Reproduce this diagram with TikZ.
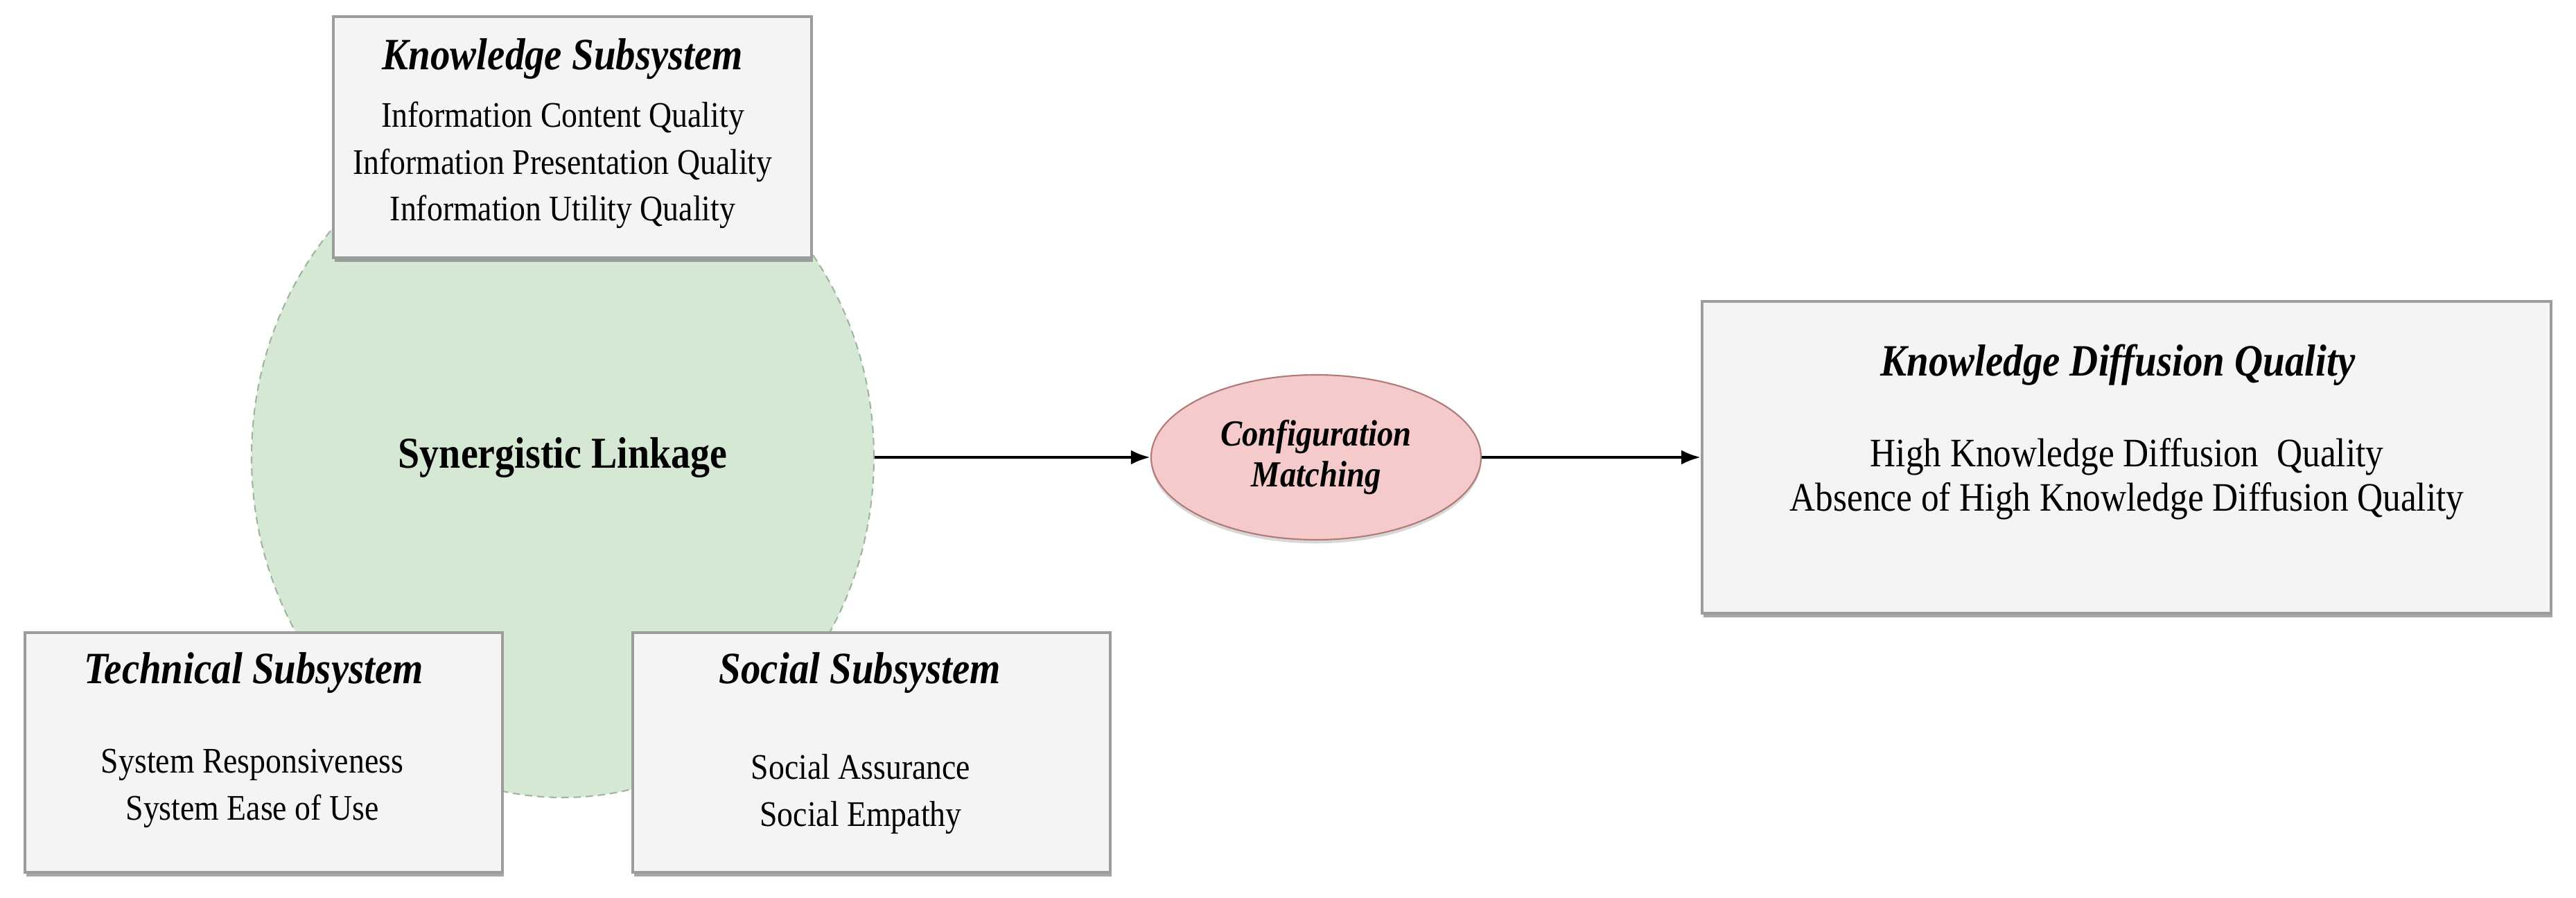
\documentclass[tikz,border=0pt]{standalone}
\usepackage{fontspec}
\setmainfont{Liberation Serif}[FakeStretch=0.88]
\usetikzlibrary{shapes.geometric,shadows,arrows.meta}

\definecolor{boxfill}{HTML}{F4F4F4}
\definecolor{boxline}{HTML}{9C9C9C}
\definecolor{linkfill}{HTML}{D5E8D4}
\definecolor{linkline}{HTML}{9FB59E}
\definecolor{matchfill}{HTML}{F5CACA}
\definecolor{matchline}{HTML}{B07A78}

\tikzset{
	subsystem/.style={draw=boxline, line width=1pt, fill=boxfill, inner sep=0pt,
		drop shadow={shadow xshift=0.5pt, shadow yshift=-1.8pt, fill=black!50, opacity=0.7}},
	heading/.style={font=\fontsize{18.4}{21}\selectfont\bfseries\itshape, inner sep=0pt},
	items/.style={font=\fontsize{14.8}{19.2}\selectfont, align=center, inner sep=0pt},
	flow/.style={-{Latex[length=8pt,width=6pt]}, line width=1.3pt},
}

\begin{document}
\begin{tikzpicture}
	\useasboundingbox (0,0) rectangle (37.17,12.95);
	% synergistic linkage, lies behind the subsystems
	\node[ellipse, draw=linkline, dash pattern=on 3pt off 2pt, line width=0.6pt, fill=linkfill,
		minimum width=8.98cm, minimum height=9.82cm, inner sep=0pt,
		font=\fontsize{18.1}{21}\selectfont\bfseries] (linkage) at (8.12,6.35) {Synergistic Linkage};
	% subsystem frames
	\node[subsystem, minimum width=6.90cm, minimum height=3.48cm] (know) at (8.26,10.97) {};
	\node[subsystem, minimum width=6.89cm, minimum height=3.46cm] (tech) at (3.805,2.09) {};
	\node[subsystem, minimum width=6.89cm, minimum height=3.46cm] (soc) at (12.575,2.09) {};
	% subsystem texts
	\node[heading] (know_head) at (8.12,12.10) {Knowledge Subsystem};
	\node[items] (know_items) at (8.12,10.565) {Information Content Quality\\Information Presentation Quality\\Information Utility Quality};
	\node[heading] (tech_head) at (3.66,3.24) {Technical Subsystem};
	\node[items] (tech_items) at (3.64,1.57) {System Responsiveness\\System Ease of Use};
	\node[heading] (soc_head) at (12.41,3.24) {Social Subsystem};
	\node[items] (soc_items) at (12.42,1.49) {Social Assurance\\Social Empathy};
	% configuration matching
	\node[ellipse, draw=matchline, line width=0.6pt, fill=matchfill,
		minimum width=4.76cm, minimum height=2.38cm, inner sep=0pt, align=center,
		font=\fontsize{15.1}{16.8}\selectfont\bfseries\itshape,
		drop shadow={shadow xshift=0pt, shadow yshift=-1.5pt, fill=black!30, opacity=0.5}] (config) at (18.99,6.35) {Configuration\\Matching};
	% outcome
	\node[subsystem, minimum width=12.25cm, minimum height=4.50cm] (kdq) at (30.685,6.35) {};
	\node[heading] (kdq_head) at (30.56,7.68) {Knowledge Diffusion Quality};
	\node[items, font=\fontsize{16.6}{18.2}\selectfont] (kdq_items) at (30.69,6.04) {High Knowledge Diffusion\ \ Quality\\Absence of High Knowledge Diffusion Quality};
	% arrows
	\draw[flow] (linkage.east) -- (config.west);
	\draw[flow] (config.east) -- (kdq.west);
\end{tikzpicture}
\end{document}
